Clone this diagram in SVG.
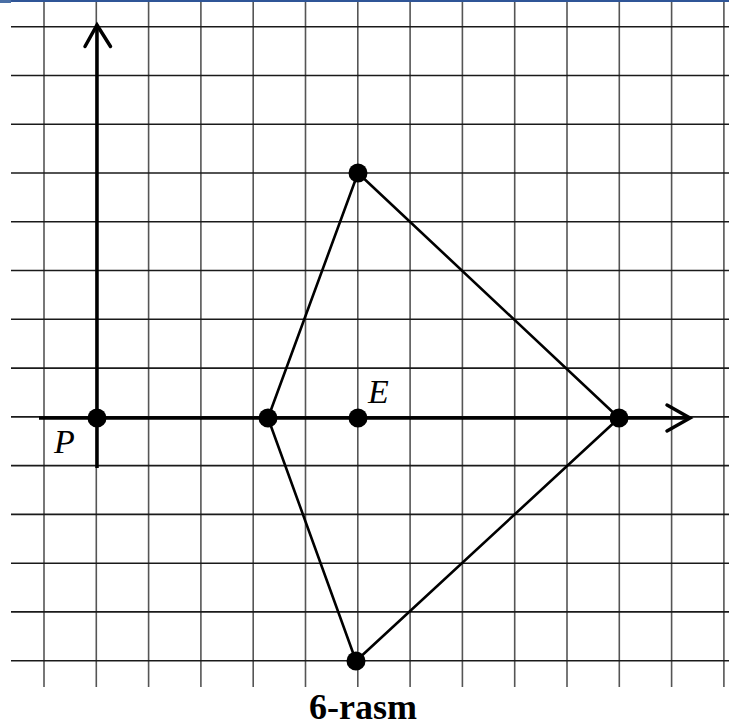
<svg xmlns="http://www.w3.org/2000/svg" width="729" height="726" viewBox="0 0 729 726">
<style>
.h{stroke:#1a1a1a;stroke-width:1.6}
.v{stroke:#555;stroke-width:1.6}
.axis{stroke:#000;stroke-width:3.5;fill:none}
.edge{stroke:#000;stroke-width:2.6;fill:none;stroke-linejoin:round}
.dot{fill:#000}
.lbl{font-family:"Liberation Serif","Times New Roman",serif;font-style:italic;font-size:34px;fill:#000}
.cap{font-family:"Liberation Serif","Times New Roman",serif;font-weight:bold;font-size:36px;fill:#000}
</style>
<rect width="729" height="726" fill="#fff"/>
<rect x="0" y="0" width="729" height="2" fill="#2F5597"/>
<rect x="0" y="0" width="11" height="3" fill="#4a6fa5"/>
<g id="grid">
<line class="v" x1="44" y1="2" x2="44" y2="687"/>
<line class="v" x1="96.3" y1="2" x2="96.3" y2="687"/>
<line class="v" x1="148.6" y1="2" x2="148.6" y2="687"/>
<line class="v" x1="200.9" y1="2" x2="200.9" y2="687"/>
<line class="v" x1="253.2" y1="2" x2="253.2" y2="687"/>
<line class="v" x1="305.5" y1="2" x2="305.5" y2="687"/>
<line class="v" x1="357.8" y1="2" x2="357.8" y2="687"/>
<line class="v" x1="410.1" y1="2" x2="410.1" y2="687"/>
<line class="v" x1="462.4" y1="2" x2="462.4" y2="687"/>
<line class="v" x1="514.7" y1="2" x2="514.7" y2="687"/>
<line class="v" x1="567" y1="2" x2="567" y2="687"/>
<line class="v" x1="619.3" y1="2" x2="619.3" y2="687"/>
<line class="v" x1="671.6" y1="2" x2="671.6" y2="687"/>
<line class="v" x1="723.9" y1="2" x2="723.9" y2="687"/>
<line class="h" x1="11" y1="26.7" x2="729" y2="26.7"/>
<line class="h" x1="11" y1="75.5" x2="729" y2="75.5"/>
<line class="h" x1="11" y1="124.2" x2="729" y2="124.2"/>
<line class="h" x1="11" y1="173" x2="729" y2="173"/>
<line class="h" x1="11" y1="221.8" x2="729" y2="221.8"/>
<line class="h" x1="11" y1="270.5" x2="729" y2="270.5"/>
<line class="h" x1="11" y1="319.3" x2="729" y2="319.3"/>
<line class="h" x1="11" y1="368.1" x2="729" y2="368.1"/>
<line class="h" x1="11" y1="416.9" x2="729" y2="416.9"/>
<line class="h" x1="11" y1="465.6" x2="729" y2="465.6"/>
<line class="h" x1="11" y1="514.4" x2="729" y2="514.4"/>
<line class="h" x1="11" y1="563.2" x2="729" y2="563.2"/>
<line class="h" x1="11" y1="611.9" x2="729" y2="611.9"/>
<line class="h" x1="11" y1="660.7" x2="729" y2="660.7"/>
</g>
<g id="axes">
<line class="axis" x1="97" y1="25" x2="97" y2="468"/>
<polyline class="axis" points="85,46.5 97,25 110.5,46.5" stroke-linecap="round"/>
<line class="axis" x1="39" y1="418" x2="689" y2="418"/>
<polyline class="axis" points="667,405 690,418 667,431" stroke-linecap="round"/>
</g>
<g id="connectors">
<polygon class="edge" points="358,173 619,418 356,661 268,418"/>
</g>
<g id="node-P"><circle class="dot" cx="97" cy="418" r="9.5"/><text class="lbl" x="54" y="453">P</text></g>
<g id="node-A"><circle class="dot" cx="268" cy="418" r="9.5"/></g>
<g id="node-E"><circle class="dot" cx="358" cy="418" r="9.5"/><text class="lbl" x="368" y="403">E</text></g>
<g id="node-C"><circle class="dot" cx="619" cy="418" r="9.5"/></g>
<g id="node-T"><circle class="dot" cx="358" cy="173" r="9.5"/></g>
<g id="node-B"><circle class="dot" cx="356" cy="661" r="9.5"/></g>
<text class="cap" x="363" y="719" text-anchor="middle">6-rasm</text>
</svg>
